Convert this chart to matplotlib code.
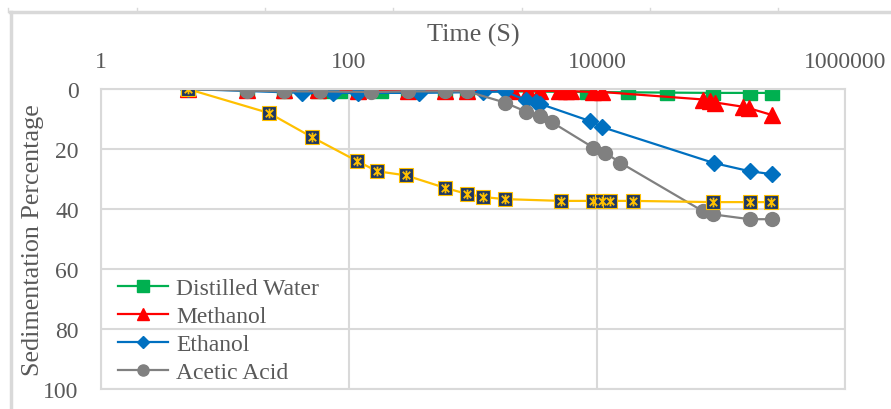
import matplotlib
matplotlib.use("Agg")
import matplotlib.pyplot as plt
from matplotlib.path import Path
from matplotlib.lines import Line2D

# time in seconds, sedimentation in percent
water_t = [5, 15, 30, 56, 70, 85, 118, 180, 300, 600, 900, 8300, 17800, 36700, 86400, 172800, 259200]
water_y = [0, 0.3, 0.5, 0.5, 0.5, 0.5, 0.6, 0.6, 0.6, 0.7, 0.7, 1.0, 1.1, 1.2, 1.3, 1.3, 1.3]

methanol_t = [5, 15, 30, 56, 118, 300, 600, 900, 2100, 2800, 3500, 4900, 5600, 6200,
              9300, 11000, 72000, 81000, 90000, 150000, 168000, 259200]
methanol_y = [0, 0.3, 0.4, 0.4, 0.5, 0.5, 0.6, 0.6, 0.6, 0.6, 0.6, 0.7, 0.7, 0.7,
              1.0, 1.0, 3.5, 4.0, 4.5, 5.9, 6.4, 8.7]

ethanol_t = [5, 42, 74, 118, 370, 1200, 1800, 2700, 3200, 3500, 8800, 11000, 88000, 170000, 258000]
ethanol_y = [0, 1.3, 1.3, 1.3, 1.3, 1.0, 0.8, 3.8, 4.3, 5.0, 10.7, 12.7, 24.7, 27.4, 28.4]

acetic_t = [5, 15, 30, 58, 150, 300, 600, 900, 1800, 2700, 3500, 4300, 9300, 11600, 15300,
            72000, 86400, 170000, 258000]
acetic_y = [0, 0.5, 0.8, 0.8, 1.0, 0.8, 0.8, 0.8, 4.5, 7.6, 9.0, 11.0, 19.5, 21.2, 24.5,
            40.8, 41.8, 43.4, 43.4]

other_t = [5, 22.6, 50, 116, 168, 288, 590, 895, 1200, 1800, 5130, 9300, 11000, 12700,
           19500, 86100, 171000, 253000]
other_y = [0, 8, 16, 24, 27.4, 28.8, 32.9, 35, 36, 36.7, 37.3, 37.3, 37.3, 37.3,
           37.3, 37.7, 37.7, 37.7]

x_ticks = [1, 100, 10000, 1000000]
x_labels = ["1", "100", "10000", "1000000"]
y_ticks = [0, 20, 40, 60, 80, 100]

TXT = "#595959"
GRID = "#d9d9d9"
plt.rcParams["font.family"] = ["Liberation Serif", "DejaVu Serif"]

fig = plt.figure(figsize=(8.91, 4.10), dpi=100)
ax = fig.add_axes([101 / 891, 1 - 390 / 410, 744 / 891, 300 / 410])

ax.plot(water_t, water_y, color="#00b050", lw=1.6, marker="s", ms=10, label="Distilled Water")
ax.plot(methanol_t, methanol_y, color="#ff0000", lw=1.6, marker="^", ms=11, label="Methanol")
ax.plot(ethanol_t, ethanol_y, color="#0070c0", lw=1.6, marker="D", ms=8, label="Ethanol")
ax.plot(acetic_t, acetic_y, color="#808080", lw=1.6, marker="o", ms=10, label="Acetic Acid")

# unnamed fifth series: navy squares with a yellow asterisk
ax.plot(other_t, other_y, color="#ffc000", lw=1.6, marker="s", ms=10,
        mfc="#1f3864", mec="#ffc000", mew=0.8)
star = Path([(-1, -1), (1, 1), (-1, 1), (1, -1), (0, -1.3), (0, 1.3)],
            [Path.MOVETO, Path.LINETO, Path.MOVETO, Path.LINETO, Path.MOVETO, Path.LINETO])
ax.plot(other_t, other_y, ls="none", marker=star, ms=7, mec="#ffc000", mew=1.3)

ax.set_xscale("log")
ax.set_xlim(1, 1e6)
ax.set_ylim(100, 0)
ax.xaxis.tick_top()
ax.set_xticks(x_ticks)
ax.set_xticklabels(x_labels)
ax.minorticks_off()
ax.set_yticks(y_ticks)
ax.tick_params(axis="x", length=0, pad=12, labelsize=17, labelcolor=TXT)
ax.tick_params(axis="y", length=0, pad=16, labelsize=17, labelcolor=TXT)
ax.grid(True, color=GRID, lw=1.5)
ax.set_axisbelow(True)
for s in ax.spines.values():
    s.set_color(GRID)
    s.set_linewidth(1.5)

ax.set_xlabel("Time (S)", fontsize=18.8, color=TXT, va="center")
ax.xaxis.set_label_position("top")
ax.xaxis.set_label_coords(0.5, 1.16)
ax.set_ylabel("Sedimentation Percentage", fontsize=18.8, color=TXT, va="center")
ax.yaxis.set_label_coords(-0.0914, 0.5)

ax.legend(loc="lower left", bbox_to_anchor=(0.023, 0.02), frameon=False, fontsize=17,
          labelcolor=TXT, borderpad=0, borderaxespad=0, labelspacing=0.27,
          handlelength=2.1, handletextpad=0.35, markerscale=0.8)

# chart-area border (cut by the image edge on right and bottom)
fig.add_artist(Line2D([10 / 891, 1.0], [1 - 12.5 / 410] * 2, color=GRID, lw=2.5))
fig.add_artist(Line2D([10.5 / 891] * 2, [0.0, 1 - 12.5 / 410], color=GRID, lw=2.5))
for px in [8, 137, 265, 393, 522, 650, 778]:
    fig.add_artist(Line2D([px / 891] * 2, [1 - 12.5 / 410, 1 - 9 / 410], color=GRID, lw=1))

fig.savefig("out.png", dpi=100)
